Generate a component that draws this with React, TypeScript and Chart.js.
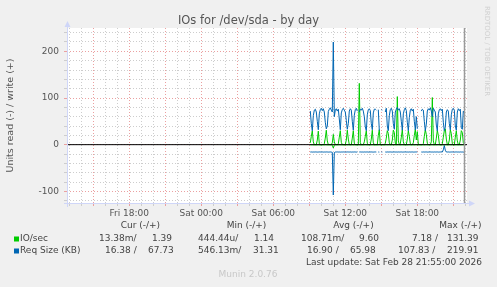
import React, { useEffect, useRef } from 'react';
import { Chart, registerables } from 'chart.js';

Chart.register(...registerables);

// ---- time axis (hours relative to Sat 00:00) ----
const START_HOUR = 9 + 5 / 60; // first sample: Sat 09:05
const STEP_HOUR = 5 / 60; // 5-minute samples
const NOW_HOUR = 21 + 55 / 60; // last update Sat 21:55
const X_MIN = -11.19;
const X_MAX = 22.14;
const Y_MIN = -125;
const Y_MAX = 250;

const xTickHours = [-6, 0, 6, 12, 18];
const xTickLabels = ['Fri 18:00', 'Sat 00:00', 'Sat 06:00', 'Sat 12:00', 'Sat 18:00'];
const yTickValues = [-100, 0, 100, 200];

// ---- series (5-minute samples from Sat 09:05) ----
const reqWrite = [
  72, 45, 30, 62, 74, 76, 70, 50, 32, 66,
  75, 78, 73, 77, 70, 48, 34, 40, 71, 76,
  79, 74, 70, 219.91, 60, 74, 77, 72, 76, 55,
  32, 68, 75, 78, 74, 70, 52, 33, 45, 72,
  77, 74, 50, 31, 63, 75, 78, 72, null, 70,
  76, 74, 78, 72, 60, 38, 30, 64, 75, 77,
  73, 45, 32, 68, 76, 76, 74, null, 75, 30,
  null, 75, 74, null, null, 70, 78, 40, 30, 62,
  75, 78, 72, 45, 33, 70, 76, 80, 74, 77,
  70, 50, 31, 66, 75, 79, 73, 48, 30, 58,
  74, 77, 72, 76, 50, 32, 60, 34, null, null,
  null, 72, 76, 74, 50, 30, 44, 72, 77, 74,
  79, 72, 60, 78, 74, 70, 42, 30, 66, 75,
  77, 73, 76, 48, 30, 38, 70, 75, 72, 45,
  32, 64, 76, 78, 74, 40, 31, 70, 77, 73,
  76, 36, 33, 72, 67.73,
];

const reqRead = [
  -15.8, -15.6, -15.9, -15.7, -15.8, -15.6, -15.7, -15.9, -15.8, -15.6,
  -15.7, -15.8, -15.6, -15.9, -15.7, -15.8, -15.6, -15.7, -15.9, -15.8,
  -15.6, -15.9, -16.5, -107.83, -17.0, -15.8, -15.7, -15.6, -15.8, -15.7,
  -15.9, -15.7, -15.8, -15.6, -15.7, -15.9, -15.8, -15.6, -15.7, -15.8,
  -15.6, -15.9, -15.7, -15.8, -15.6, -15.7, -15.9, -15.8, null, -15.7,
  -15.6, -15.8, -15.7, -15.9, -15.6, -15.8, -15.7, -15.6, -15.9, -15.8,
  -15.7, -15.6, -15.8, -15.9, -15.7, -15.6, -15.8, null, -15.7, -15.9,
  null, -15.6, -15.8, null, null, -15.7, -15.9, -15.6, -15.8, -15.7,
  -15.6, -15.8, -15.9, -15.7, -15.6, -15.8, -15.7, -15.9, -15.6, -15.8,
  -15.7, -15.6, -15.9, -15.8, -15.7, -15.6, -15.8, -15.7, -15.9, -15.6,
  -15.8, -15.7, -15.6, -15.9, -15.8, -15.7, -15.6, -15.8, null, null,
  null, -15.7, -15.9, -15.6, -15.8, -15.7, -15.6, -15.9, -15.8, -15.7,
  -15.6, -15.8, -15.7, -15.9, -15.6, -15.8, -15.7, -15.6, -15.9, -15.8,
  -15.7, -15.6, -15.8, -11.0, -2.0, -12.0, -15.7, -15.8, -15.6, -15.9,
  -15.8, -15.7, -15.6, -15.8, -15.9, -15.7, -15.6, -15.8, -15.7, -15.9,
  -15.6, -15.8, -15.7, -15.9, -16.38,
];

const ioWrite = [
  4, 18, 30, 6, 0, 0, 0, 10, 29, 2,
  0, 0, 0, 0, 2, 14, 31, 8, 0, 0,
  0, 0, 4, 22, 6, 0, 0, 0, 2, 16,
  30, 5, 0, 0, 0, 0, 10, 31, 12, 0,
  0, 0, 14, 30, 3, 0, 0, 0, 0, 131.39,
  4, 0, 0, 0, 6, 18, 30, 3, 0, 0,
  0, 12, 31, 4, 0, 0, 0, 0, 20, 32,
  0, 0, 0, 0, 0, 3, 14, 30, 24, 4,
  0, 0, 10, 31, 26, 3, 0, 103, 8, 0,
  2, 16, 32, 6, 0, 0, 0, 12, 30, 18,
  2, 0, 0, 4, 20, 33, 10, 28, 0, 0,
  0, 0, 0, 2, 18, 32, 22, 3, 0, 0,
  0, 6, 101, 8, 0, 0, 14, 31, 20, 2,
  0, 0, 2, 16, 30, 34, 12, 0, 0, 10,
  32, 24, 2, 0, 0, 16, 30, 8, 0, 0,
  10, 30, 26, 4, 1.39,
];

const ioRead = [
  -0.5, -0.4, -0.3, -0.6, -0.4, -0.3, -0.5, -0.4, -0.3, -0.5,
  -0.4, -0.6, -0.3, -0.4, -0.5, -0.3, -0.4, -0.6, -0.4, -0.3,
  -0.5, -0.4, -1.2, -7.18, -1.5, -0.4, -0.3, -0.5, -0.4, -0.3,
  -0.4, -0.5, -0.3, -0.4, -0.6, -0.4, -0.3, -0.5, -0.4, -0.3,
  -0.5, -0.4, -0.3, -0.6, -0.4, -0.3, -0.5, -0.4, -0.3, -0.4,
  -0.6, -0.4, -0.3, -0.5, -0.4, -0.3, -0.4, -0.6, -0.4, -0.3,
  -0.5, -0.4, -0.3, -0.4, -0.6, -0.4, -0.3, -0.5, -0.4, -0.3,
  -0.4, -0.5, -0.3, -0.4, -0.6, -0.4, -0.3, -0.5, -0.4, -0.3,
  -0.5, -0.4, -0.3, -0.6, -0.4, -0.3, -0.5, -0.4, -0.3, -0.4,
  -0.6, -0.4, -0.3, -0.5, -0.4, -0.3, -0.4, -0.6, -0.4, -0.3,
  -0.5, -0.4, -0.3, -0.4, -0.6, -0.4, -0.3, -0.5, -0.4, -0.3,
  -0.4, -0.5, -0.3, -0.4, -0.6, -0.4, -0.3, -0.5, -0.4, -0.3,
  -0.5, -0.4, -0.3, -0.6, -0.4, -0.3, -0.5, -0.4, -0.3, -0.4,
  -0.6, -0.4, -0.3, -0.5, -1.0, -0.4, -0.3, -0.5, -0.4, -0.3,
  -0.4, -0.5, -0.3, -0.4, -0.6, -0.4, -0.3, -0.5, -0.4, -0.3,
  -0.5, -0.4, -0.3, -0.4, -0.01,
];

// ---- legend texts ----
const legendHeaders = ['Cur (-/+)', 'Min (-/+)', 'Avg (-/+)', 'Max (-/+)'];
const seriesNames = ['IO/sec', 'Req Size (KB)'];
const seriesColors = ['#00cc00', '#0066b3'];
const ioSecValues = ['13.38m/', '1.39', '444.44u/', '1.14', '108.71m/', '9.60', '7.18 /', '131.39'];
const reqSizeValues = ['16.38 /', '67.73', '546.13m/', '31.31', '16.90 /', '65.98', '107.83 /', '219.91'];
const lastUpdate = 'Last update: Sat Feb 28 21:55:00 2026';
const muninVersion = 'Munin 2.0.76';
const watermark = 'RRDTOOL / TOBI OETIKER';
const chartTitle = 'IOs for /dev/sda - by day';
const yTitle = 'Units read (-) / write (+)';

const FONT = '"DejaVu Sans", "Liberation Sans", sans-serif';
const GRID_GRAY = 'rgba(205,205,205,1)';
const GRID_RED = 'rgba(235,160,160,1)';
const AXIS = '#CFD6F8';

const toPoints = (arr: (number | null)[]) =>
  arr.map((v, i) => ({ x: START_HOUR + i * STEP_HOUR, y: v }));

const hourGrid: number[] = [];
for (let h = Math.ceil(X_MIN); h <= Math.floor(X_MAX); h++) hourGrid.push(h);
const yGrid: number[] = [];
for (let v = -120; v <= 240; v += 20) yGrid.push(v);

const headerX = [120.7, 226.7, 333.3, 439.3];
const rowX = [
  [99, 152, 198, 254, 301, 359, 412, 447],
  [105, 148, 198, 253, 307, 350, 398, 447],
];

const muninPlugin = {
  id: 'muninDecor',
  beforeDraw(chart: any) {
    const { ctx, chartArea: a } = chart;
    ctx.save();
    ctx.fillStyle = '#f0f0f0';
    ctx.fillRect(0, 0, chart.width, chart.height);
    ctx.fillStyle = '#ffffff';
    ctx.fillRect(a.left, a.top, a.right - a.left, a.bottom - a.top);
    ctx.restore();
  },
  afterDraw(chart: any) {
    const { ctx, chartArea: a } = chart;
    const xs = chart.scales.x;
    ctx.save();
    // title
    ctx.font = `11.5px ${FONT}`;
    ctx.fillStyle = '#555';
    ctx.textAlign = 'center';
    ctx.textBaseline = 'middle';
    ctx.fillText(chartTitle, 248.5, 21);

    // now line
    const nx = Math.round(xs.getPixelForValue(NOW_HOUR)) + 0.5;
    ctx.strokeStyle = '#9a9a9a';
    ctx.lineWidth = 1.5;
    ctx.beginPath();
    ctx.moveTo(nx, a.top);
    ctx.lineTo(nx, a.bottom);
    ctx.stroke();

    // axes with arrows
    ctx.strokeStyle = AXIS;
    ctx.fillStyle = AXIS;
    ctx.lineWidth = 1;
    const lx = a.left + 0.5;
    const by = a.bottom + 0.5;
    ctx.beginPath();
    ctx.moveTo(lx, a.top - 1);
    ctx.lineTo(lx, a.bottom + 4);
    ctx.moveTo(a.left - 3, by);
    ctx.lineTo(a.right + 2, by);
    ctx.stroke();
    ctx.beginPath();
    ctx.moveTo(lx - 3, a.top - 1);
    ctx.lineTo(lx + 3, a.top - 1);
    ctx.lineTo(lx, a.top - 7);
    ctx.closePath();
    ctx.fill();
    ctx.beginPath();
    ctx.moveTo(a.right + 2, by - 3);
    ctx.lineTo(a.right + 2, by + 3);
    ctx.lineTo(a.right + 8, by);
    ctx.closePath();
    ctx.fill();

    // legend
    ctx.font = `9px ${FONT}`;
    ctx.textBaseline = 'middle';
    ctx.textAlign = 'left';
    ctx.fillStyle = '#444';
    legendHeaders.forEach((t, i) => ctx.fillText(t, headerX[i], 226));
    const rows = [ioSecValues, reqSizeValues];
    const rowY = [239, 251];
    rows.forEach((vals, r) => {
      ctx.fillStyle = seriesColors[r];
      ctx.fillRect(14, rowY[r] - 2.5, 5, 5);
      ctx.fillStyle = '#444';
      ctx.fillText(seriesNames[r], 20, rowY[r]);
      vals.forEach((t, i) => ctx.fillText(t, rowX[r][i], rowY[r]));
    });
    ctx.textAlign = 'right';
    ctx.fillText(lastUpdate, 482, 263);
    ctx.textAlign = 'center';
    ctx.fillStyle = '#c8c8c8';
    ctx.fillText(muninVersion, 248, 275);

    // watermark
    ctx.font = `7px ${FONT}`;
    ctx.fillStyle = '#d0d0d0';
    ctx.translate(487, 51);
    ctx.rotate(Math.PI / 2);
    ctx.fillText(watermark, 0, 0);
    ctx.restore();
  },
};

export default function App() {
  const ref = useRef<HTMLCanvasElement>(null);
  useEffect(() => {
    if (!ref.current) return;
    const lineDs = (label: string, data: any[], color: string, width = 1) => ({
      label,
      data,
      borderColor: color,
      backgroundColor: color,
      borderWidth: width,
      pointRadius: 0,
      pointHoverRadius: 0,
      tension: 0,
      fill: false,
      spanGaps: false,
    });
    const chart = new Chart(ref.current, {
      type: 'line',
      data: {
        datasets: [
          lineDs('zero', [{ x: X_MIN, y: 0 }, { x: X_MAX, y: 0 }], '#000000'),
          lineDs('Req Size write', toPoints(reqWrite), '#0066b3'),
          lineDs('Req Size read', toPoints(reqRead), '#0066b3'),
          lineDs('IO/sec write', toPoints(ioWrite), '#00cc00'),
          lineDs('IO/sec read', toPoints(ioRead), '#00cc00'),
        ],
      },
      options: {
        responsive: false,
        animation: false,
        events: [],
        layout: { padding: { left: 0, right: 30, top: 28, bottom: 0 } },
        plugins: {
          legend: { display: false },
          tooltip: { enabled: false },
          title: { display: false },
        },
        scales: {
          x: {
            type: 'linear',
            min: X_MIN,
            max: X_MAX,
            afterBuildTicks: (s: any) => {
              s.ticks = hourGrid.map((v) => ({ value: v }));
            },
            afterFit: (s: any) => {
              s.height = 84;
            },
            ticks: {
              autoSkip: false,
              maxRotation: 0,
              minRotation: 0,
              padding: 2,
              color: '#555',
              font: { family: FONT, size: 9 },
              callback: (v: any) => {
                const i = xTickHours.indexOf(Number(v));
                return i >= 0 ? xTickLabels[i] : '';
              },
            },
            grid: {
              color: (c: any) => (c.tick && Math.abs(c.tick.value % 3) === 0 ? GRID_RED : GRID_GRAY),
              lineWidth: 1,
              drawTicks: true,
              tickLength: 3,
            },
            border: { display: false, dash: [1, 2] },
          },
          y: {
            type: 'linear',
            min: Y_MIN,
            max: Y_MAX,
            afterBuildTicks: (s: any) => {
              s.ticks = yGrid.map((v) => ({ value: v }));
            },
            afterFit: (s: any) => {
              s.width = 67;
            },
            ticks: {
              autoSkip: false,
              padding: 5,
              color: '#555',
              font: { family: FONT, size: 9 },
              callback: (v: any) => (yTickValues.includes(Number(v)) ? String(v) : ''),
            },
            grid: {
              color: (c: any) => (c.tick && Math.abs(c.tick.value % 100) === 0 ? GRID_RED : GRID_GRAY),
              lineWidth: 1,
              drawTicks: true,
              tickLength: 3,
            },
            border: { display: false, dash: [1, 2] },
            title: {
              display: true,
              text: yTitle,
              color: '#555',
              font: { family: FONT, size: 9.5 },
              padding: { top: 5, bottom: 0 },
            },
          },
        },
      },
      plugins: [muninPlugin],
    } as any);
    return () => chart.destroy();
  }, []);
  return (
    <div style={{ position: 'absolute', left: 0, top: 0, width: 497, height: 287 }}>
      <canvas ref={ref} width={497} height={287} style={{ display: 'block', width: 497, height: 287 }} />
    </div>
  );
}
